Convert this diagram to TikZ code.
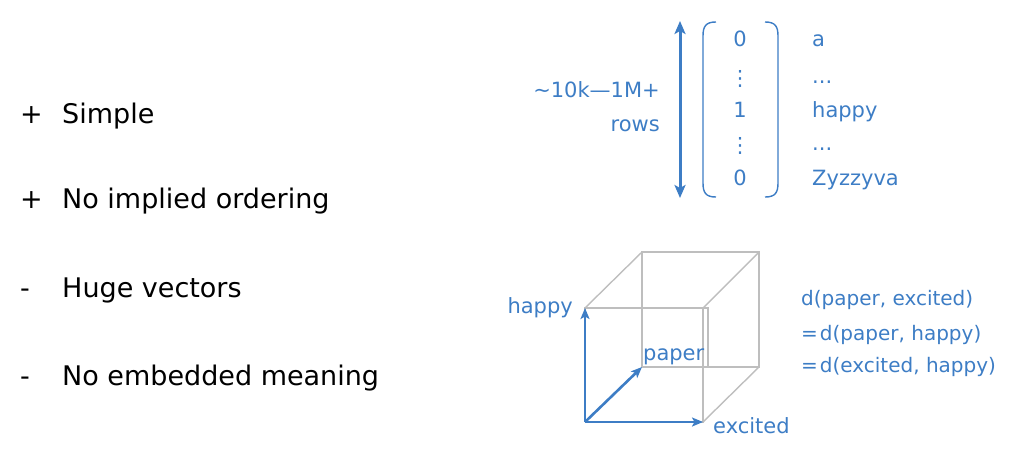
\documentclass[tikz,border=0pt]{standalone}
\usepackage{fontspec}
\setmainfont{DejaVu Sans}
\usepackage{tikz}
\usetikzlibrary{positioning, arrows.meta}
\definecolor{labelColor}{RGB}{61,125,197}
\definecolor{cubeColor}{RGB}{190,190,190}
\tikzstyle{slide} = [x = 1pt, y = -1pt]
\tikzstyle{bulletText} = [font=\fontsize{27}{30}\selectfont, anchor=base west, inner sep=0]
\tikzstyle{blueText} = [font=\fontsize{21}{24}\selectfont, text=labelColor, inner sep=0]
\tikzstyle{rightText} = [font=\fontsize{20}{24}\selectfont, text=labelColor, inner sep=0, anchor=base west]
\tikzstyle{cubeLine} = [color=cubeColor, line width=1.4pt]
\tikzstyle{axisArrow} = [color=labelColor, line width=2.6pt, -{Stealth[length=11pt, width=9pt, inset=2.5pt]}]
\tikzstyle{rowArrow} = [color=labelColor, line width=3pt, {Stealth[length=13pt, width=11pt, inset=3pt]}-{Stealth[length=13pt, width=11pt, inset=3pt]}]
\tikzstyle{parenLine} = [color=labelColor, line width=1.4pt]
\newcommand{\bulletItem}[4]{\node [bulletText] (#1Sign) at (20, #2) {#3}; \node [bulletText] (#1) at (62, #2) {#4};}
\newcommand{\vectorEntry}[4]{\node [blueText, anchor=base] (#1Value) at (740, #2) {#3}; \node [blueText, anchor=base west] (#1Word) at (812, #2) {#4};}

\begin{document}
\begin{tikzpicture}[slide]
  \useasboundingbox (0,0) rectangle (1026,451);
  % pros and cons
  \bulletItem{simple}{123}{+}{Simple}
  \bulletItem{ordering}{208}{+}{No implied ordering}
  \bulletItem{huge}{297}{-}{Huge vectors}
  \bulletItem{meaning}{385}{-}{No embedded meaning}
  % one-hot vector
  \coordinate (rowsTop) at (680, 21);
  \coordinate (rowsBottom) at (680, 198);
  \draw [rowArrow] (rowsTop) -- (rowsBottom);
  \node [blueText, anchor=base east] (rowsCount) at (660, 97) {\textasciitilde10k—1M+};
  \node [blueText, anchor=base east] (rowsLabel) at (660, 131) {rows};
  \draw [parenLine] (716, 22) .. controls (706, 22) and (703, 26) .. (703, 36) -- (703, 183) .. controls (703, 193) and (706, 197) .. (716, 197);
  \draw [parenLine] (765, 22) .. controls (775, 22) and (778, 26) .. (778, 36) -- (778, 183) .. controls (778, 193) and (775, 197) .. (765, 197);
  \vectorEntry{first}{46}{0}{a}
  \vectorEntry{gapA}{83}{\raisebox{-2pt}{⋮}}{...}
  \vectorEntry{happy}{117}{1}{happy}
  \vectorEntry{gapB}{150}{\raisebox{-2pt}{⋮}}{...}
  \vectorEntry{last}{185}{0}{Zyzzyva}
  % cube
  \coordinate (frontA) at (585, 308);
  \coordinate (frontB) at (703, 308);
  \coordinate (frontC) at (703, 422);
  \coordinate (frontD) at (585, 422);
  \coordinate (backA) at (642, 252);
  \coordinate (backB) at (759, 252);
  \coordinate (backC) at (759, 367);
  \coordinate (backD) at (642, 367);
  \draw [cubeLine] (frontD) -- (frontA) -- (frontB) -- (frontC) -- (frontD);
  \draw [cubeLine] (backD) -- (backA) -- (backB) -- (backC) -- (backD);
  \draw [cubeLine] (frontA) -- (backA);
  \draw [cubeLine] (frontB) -- (backB);
  \draw [cubeLine] (frontC) -- (backC);
  \draw [cubeLine] (frontB) -- ++(5, 0) -- ++(0, 59);
  \draw [axisArrow] (frontD) -- (frontA);
  \draw [axisArrow] (frontD) -- (frontC);
  \draw [axisArrow] (frontD) -- (backD);
  \node [blueText, anchor=base east] (happyAxis) at (573, 313) {happy};
  \node [blueText, anchor=base west] (paperPoint) at (643, 360) {paper};
  \node [blueText, anchor=base west] (excitedAxis) at (713, 433) {excited};
  % distances
  \node [rightText] (distOne) at (801, 305) {d(paper, excited)};
  \node [rightText] (distTwo) at (801, 340) {=\kern2pt d(paper, happy)};
  \node [rightText] (distThree) at (801, 372) {=\kern2pt d(excited, happy)};
\end{tikzpicture}
\end{document}
